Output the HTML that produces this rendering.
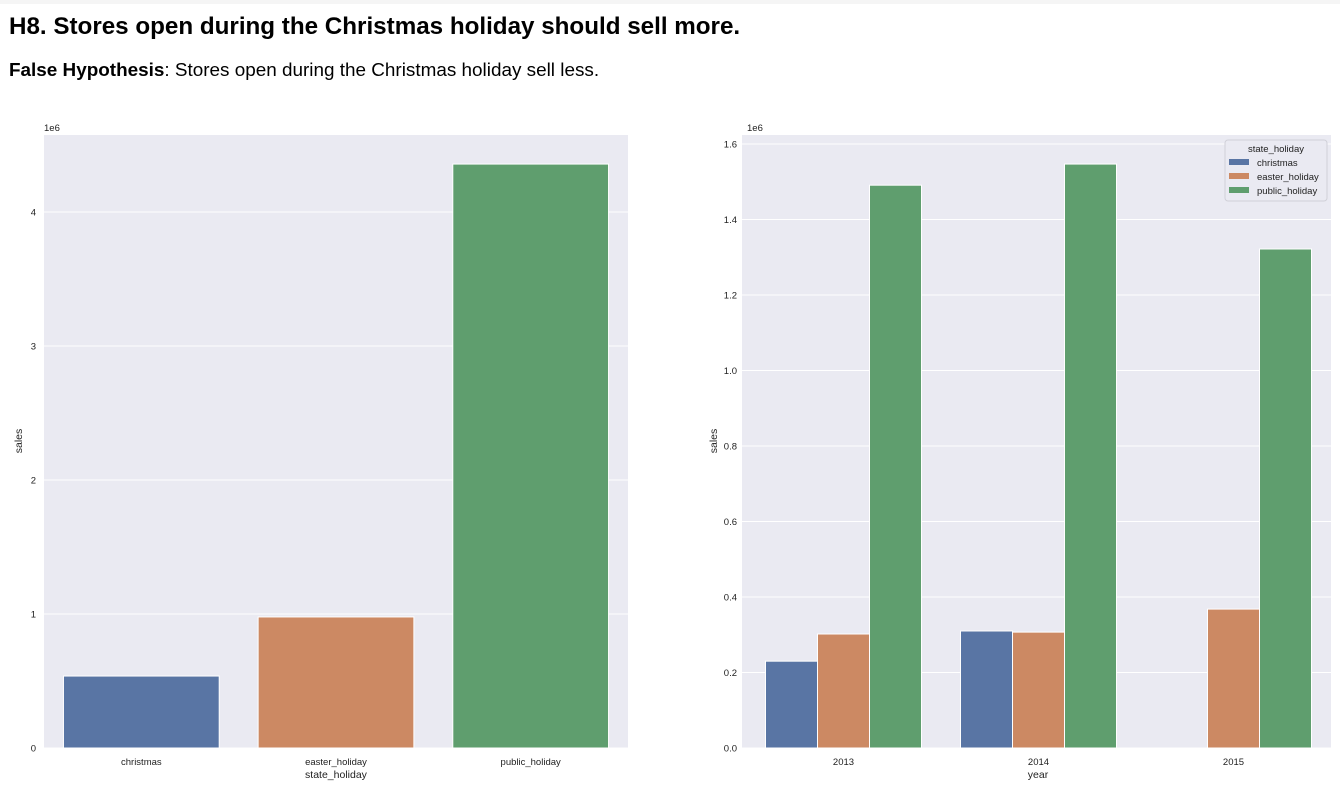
<!DOCTYPE html>
<html><head><meta charset="utf-8"><style>
body{margin:0;width:1340px;height:803px;background:#fff;font-family:"Liberation Sans",sans-serif;overflow:hidden}
h2{position:absolute;left:9px;top:13px;margin:0;font-size:24.2px;font-weight:bold;color:#000}
p{position:absolute;left:9px;top:60px;margin:0;font-size:18.9px;color:#000}
svg{position:absolute;left:0;top:0}
text{font-family:"Liberation Sans",sans-serif;fill:#222}
</style></head><body>
<div style="position:absolute;left:0;top:0;width:1340px;height:4px;background:#f5f5f5"></div>
<h2>H8. Stores open during the Christmas holiday should sell more.</h2>
<p><b>False Hypothesis</b>: Stores open during the Christmas holiday sell less.</p>
<svg id="s" width="1340" height="803"></svg>
<script>
const cats1=["christmas","easter_holiday","public_holiday"];
const vals1=[0.537,0.978,4.358];
const ticks1=[0,1,2,3,4];
const years=["2013","2014","2015"];
const christmas=[0.230,0.310,null];
const easter=[0.302,0.307,0.368];
const publicH=[1.491,1.547,1.322];
const ticks2=[0,0.2,0.4,0.6,0.8,1.0,1.2,1.4,1.6];
const colors=["#5975a4","#cc8963","#5f9e6e"];
const NS="http://www.w3.org/2000/svg";
const s=document.getElementById('s');
function el(t,a,txt){const e=document.createElementNS(NS,t);for(const k in a)e.setAttribute(k,a[k]);if(txt!=null)e.textContent=txt;s.appendChild(e);return e;}
// chart 1
const L1=44,R1=628,T1=135,B1=748,yMax1=4.575;
const y1=v=>B1-(v/yMax1)*(B1-T1);
let e=el('rect',{x:L1,y:T1,width:R1-L1,height:B1-T1,fill:'#eaeaf2'});


ticks1.forEach(t=>{
 el('line',{x1:L1,x2:R1,y1:y1(t),y2:y1(t),stroke:'#fff','stroke-width':1});
 const tx=el('text',{x:L1-8,y:y1(t)+3.5,'font-size':9.5,'text-anchor':'end'},String(t));
 
 
});
const bw1=(R1-L1)/cats1.length;
cats1.forEach((c,i)=>{
 const b=el('rect',{x:L1+bw1*i+bw1*0.1,y:y1(vals1[i]),width:bw1*0.8,height:B1-y1(vals1[i]),fill:colors[i],stroke:'#fff','stroke-width':1});
 
 
 const tx=el('text',{x:L1+bw1*(i+0.5),y:765,'font-size':9.5,'text-anchor':'middle'},c);
 
 
});
el('text',{x:44,y:131,'font-size':9.5},'1e6');
el('text',{x:336,y:778,'font-size':10.5,'text-anchor':'middle'},'state_holiday');
el('text',{x:22,y:441,'font-size':10.5,'text-anchor':'middle',transform:'rotate(-90 22 441)'},'sales');
// chart 2
const L2=742,R2=1331,T2=135,B2=748,yMax2=1.624;
const GL=746;
const y2=v=>B2-(v/yMax2)*(B2-T2);
e=el('rect',{x:L2,y:T2,width:R2-L2,height:B2-T2,fill:'#eaeaf2'});


ticks2.forEach(t=>{
 el('line',{x1:L2,x2:R2,y1:y2(t),y2:y2(t),stroke:'#fff','stroke-width':1});
 const tx=el('text',{x:L2-5,y:y2(t)+3.5,'font-size':9.5,'text-anchor':'end'},t.toFixed(1));
 
 
});
const gw=(R2-GL)/years.length, bw2=gw*0.8/3;
const series=[christmas,easter,publicH], snames=cats1;
years.forEach((yr,i)=>{
 series.forEach((ser,j)=>{
  const v=ser[i]; if(v==null) return;
  const b=el('rect',{x:GL+gw*i+gw*0.1+bw2*j,y:y2(v),width:bw2,height:B2-y2(v),fill:colors[j],stroke:'#fff','stroke-width':1});
  
  
 });
 const tx=el('text',{x:GL+gw*(i+0.5),y:765,'font-size':9.5,'text-anchor':'middle'},yr);
 
 
});
el('text',{x:747,y:131,'font-size':9.5},'1e6');
el('text',{x:1038,y:778,'font-size':10.5,'text-anchor':'middle'},'year');
el('text',{x:717,y:441,'font-size':10.5,'text-anchor':'middle',transform:'rotate(-90 717 441)'},'sales');
// legend
const lg=el('rect',{x:1225,y:140,width:102,height:61,rx:3,fill:'#eaeaf2',stroke:'#d0d0d8'});


el('text',{x:1276,y:152,'font-size':9.5,'text-anchor':'middle'},'state_holiday');
snames.forEach((n,j)=>{
 el('rect',{x:1229,y:159+j*14,width:20,height:6,fill:colors[j]});
 const tx=el('text',{x:1257,y:166+j*14,'font-size':9.5},n);
 
 
});
</script>
</body></html>
